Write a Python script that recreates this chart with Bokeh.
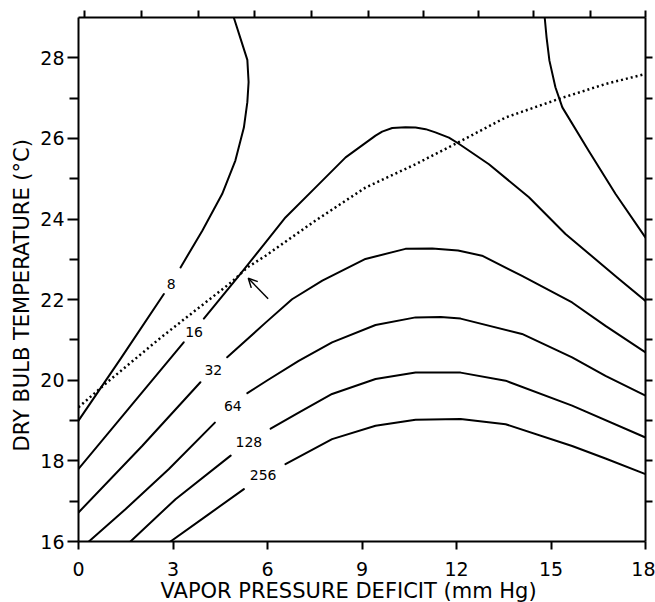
from bokeh.plotting import figure
from bokeh.models import (Range1d, LinearAxis, FixedTicker, Arrow, OpenHead,
                          ColumnDataSource, LabelSet, Title, CustomJSTickFormatter)
from bokeh.core.properties import value
from bokeh.embed import file_html
from bokeh.resources import INLINE

# ---------------- data ----------------
X_LABEL = "VAPOR PRESSURE DEFICIT (mm Hg)"
Y_LABEL = "DRY BULB TEMPERATURE (°C)"
X_TICKS = [0, 3, 6, 9, 12, 15, 18]
Y_TICKS = [16, 18, 20, 22, 24, 26, 28]
Y_MINOR = [17, 19, 21, 23, 25, 27]
TOP_TICKS = [0.2, 2.0, 3.8, 5.6, 7.4, 9.2, 10.95, 12.7, 14.45, 16.25, 18.0]
RIGHT_TICKS = [17, 18, 19, 20, 21, 22, 23, 24, 25, 26, 27, 28]

# contour 8 (two pieces, gap at the label)
C8_LO_X = [0.0, 1.35, 2.71]
C8_LO_Y = [19.0, 20.55, 22.14]
C8_HI_X = [3.24, 3.93, 4.56, 4.98, 5.25, 5.36, 5.40, 5.36, 5.20, 4.93]
C8_HI_Y = [22.80, 23.71, 24.62, 25.45, 26.27, 26.90, 27.40, 27.95, 28.34, 29.0]

# contour 16
C16_LO_X = [0.0, 1.67, 3.34]
C16_LO_Y = [17.80, 19.37, 20.94]
C16_HI_X = [3.98, 5.09, 5.94, 6.57, 7.52, 8.48, 9.43, 9.64, 9.96, 10.38, 10.70, 11.02,
            11.33, 11.76, 12.05, 13.03, 14.30, 15.46, 17.10, 18.0]
C16_HI_Y = [21.53, 22.59, 23.42, 24.04, 24.78, 25.53, 26.07, 26.17, 26.26, 26.28, 26.27, 26.23,
            26.15, 26.02, 25.88, 25.36, 24.54, 23.63, 22.55, 21.97]

# contour 32
C32_LO_X = [0.0, 2.02, 3.87]
C32_LO_Y = [16.72, 18.37, 19.95]
C32_HI_X = [4.72, 5.94, 6.78, 7.74, 9.11, 10.38, 11.23, 12.05, 12.81, 14.08,
            15.67, 16.73, 18.0]
C32_HI_Y = [20.57, 21.43, 22.01, 22.47, 23.01, 23.26, 23.27, 23.22, 23.09, 22.59,
            21.93, 21.35, 20.69]

# contour 64
C64_LO_X = [0.33, 1.49, 2.87, 4.33]
C64_LO_Y = [16.0, 16.80, 17.80, 18.95]
C64_HI_X = [5.36, 6.0, 6.99, 8.05, 9.43, 10.70, 11.5, 12.13, 14.08, 15.67, 16.73, 18.0]
C64_HI_Y = [19.68, 20.0, 20.48, 20.94, 21.37, 21.56, 21.57, 21.53, 21.15, 20.57, 20.11, 19.62]

# contour 128
C128_LO_X = [1.65, 3.08, 4.83]
C128_LO_Y = [16.0, 17.05, 18.13]
C128_HI_X = [6.10, 6.99, 8.05, 9.43, 10.70, 12.13, 13.56, 15.67, 18.0]
C128_HI_Y = [18.80, 19.20, 19.66, 20.03, 20.19, 20.19, 19.99, 19.37, 18.58]

# contour 256
C256_LO_X = [2.92, 4.14, 5.25]
C256_LO_Y = [16.0, 16.68, 17.30]
C256_HI_X = [6.57, 8.05, 9.43, 10.70, 12.13, 13.56, 15.67, 16.73, 18.0]
C256_HI_Y = [17.92, 18.54, 18.87, 19.02, 19.04, 18.91, 18.37, 18.06, 17.67]

# unlabeled contour, upper right
CR_X = [14.80, 14.86, 14.95, 15.14, 15.36, 16.20, 17.05, 18.0]
CR_Y = [29.0, 28.50, 27.93, 27.27, 26.77, 25.69, 24.62, 23.54]

# dotted curve
DOT_X = [0.0, 0.91, 2.6, 4.88, 5.36, 5.94, 7.52, 9.11, 10.70, 12.05, 13.56, 15.25, 16.73, 18.0]
DOT_Y = [19.33, 19.95, 21.05, 22.45, 22.80, 23.09, 23.96, 24.78, 25.36, 25.90, 26.52, 26.98, 27.35, 27.60]

# arrow (tail -> head)
ARROW_X = [6.02, 5.39]
ARROW_Y = [22.02, 22.53]

# contour labels
LABEL_TEXT = ["8", "16", "32", "64", "128", "256"]
LABEL_X = [2.94, 3.67, 4.28, 4.90, 5.41, 5.86]
LABEL_Y = [22.40, 21.20, 20.26, 19.35, 18.46, 17.64]

FONT = "DejaVu Sans"

p = figure(width=655, height=602, output_backend="svg", toolbar_location=None,
           x_range=Range1d(0, 18), y_range=Range1d(16, 29),
           x_axis_location=None, y_axis_location=None,
           min_border_left=78, min_border_right=10, min_border_top=17, min_border_bottom=61)
p.background_fill_color = "white"
p.border_fill_color = "white"
p.outline_line_color = None
p.grid.visible = False


def style(ax, tick_out, minor_out=0):
    ax.axis_line_color = "black"
    ax.axis_line_width = 2
    ax.major_tick_line_color = "black"
    ax.major_tick_line_width = 2
    ax.major_tick_in = 0
    ax.major_tick_out = tick_out
    ax.minor_tick_line_color = "black"
    ax.minor_tick_line_width = 2
    ax.minor_tick_in = 0
    ax.minor_tick_out = minor_out
    ax.major_label_text_font = FONT
    ax.major_label_text_color = "black"
    ax.major_label_text_font_size = "19px"


bottom = LinearAxis(ticker=FixedTicker(ticks=X_TICKS, minor_ticks=[]))
style(bottom, 8)
bottom.major_label_standoff = 12
p.add_layout(bottom, "below")

left = LinearAxis(ticker=FixedTicker(ticks=Y_TICKS, minor_ticks=Y_MINOR))
style(left, 11, 9)
left.major_label_standoff = 3
p.add_layout(left, "left")

blank = CustomJSTickFormatter(code="return ''")
top = LinearAxis(ticker=FixedTicker(ticks=TOP_TICKS, minor_ticks=[]), formatter=blank)
style(top, 7)
top.major_label_text_color = None
top.major_label_text_font_size = "0px"
top.major_label_standoff = 0
p.add_layout(top, "above")

right = LinearAxis(ticker=FixedTicker(ticks=RIGHT_TICKS, minor_ticks=[]), formatter=blank)
style(right, 7)
right.major_label_text_color = None
right.major_label_text_font_size = "0px"
right.major_label_standoff = 0
p.add_layout(right, "right")

# axis titles as side-panel titles
xt = Title(text=X_LABEL, align="left", offset=82, standoff=-3, text_font=FONT,
           text_font_size="21px", text_font_style="normal", text_color="black",
           text_line_height=0.85)
p.add_layout(xt, "below")
yt = Title(text=Y_LABEL, align="left", offset=90, standoff=8, text_font=FONT,
           text_font_size="21px", text_font_style="normal", text_color="black")
p.add_layout(yt, "left")

segments = [
    (C8_LO_X, C8_LO_Y), (C8_HI_X, C8_HI_Y),
    (C16_LO_X, C16_LO_Y), (C16_HI_X, C16_HI_Y),
    (C32_LO_X, C32_LO_Y), (C32_HI_X, C32_HI_Y),
    (C64_LO_X, C64_LO_Y), (C64_HI_X, C64_HI_Y),
    (C128_LO_X, C128_LO_Y), (C128_HI_X, C128_HI_Y),
    (C256_LO_X, C256_LO_Y), (C256_HI_X, C256_HI_Y),
    (CR_X, CR_Y),
]
for xs, ys in segments:
    p.line(xs, ys, line_color="black", line_width=2, line_join="round", line_cap="round")

p.line(DOT_X, DOT_Y, line_color="black", line_width=2.5, line_dash="2 3")

p.add_layout(Arrow(end=OpenHead(size=9, line_width=1.5, line_color="black"),
                   x_start=ARROW_X[0], y_start=ARROW_Y[0],
                   x_end=ARROW_X[1], y_end=ARROW_Y[1],
                   line_width=1.5, line_color="black"))

src = ColumnDataSource(dict(x=LABEL_X, y=LABEL_Y, t=LABEL_TEXT))
p.add_layout(LabelSet(x="x", y="y", text="t", source=src, text_align="center",
                      text_baseline="middle", text_font=value(FONT),
                      text_font_size=value("14px"), text_color="black"))

open("out.html", "w").write(file_html(p, INLINE))
